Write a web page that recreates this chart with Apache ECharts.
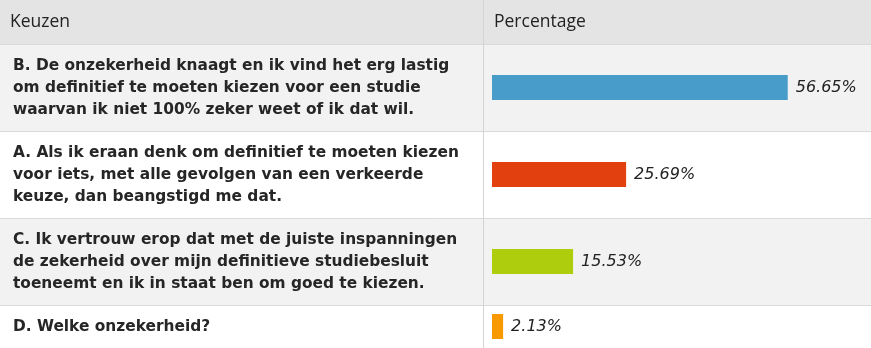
<!DOCTYPE html>
<html>
<head>
<meta charset="utf-8">
<script src="https://cdn.jsdelivr.net/npm/echarts@6/dist/echarts.min.js"></script>
<style>
  html, body { margin: 0; padding: 0; background: #ffffff; }
  #chart { width: 871px; height: 348px; }
</style>
</head>
<body>
<div id="chart"></div>
<script>
// Column headings of the results table
const headers = ['Keuzen', 'Percentage'];

// Answer options, one entry per line of text
const choices = [
  ['B. De onzekerheid knaagt en ik vind het erg lastig',
   'om definitief te moeten kiezen voor een studie',
   'waarvan ik niet 100% zeker weet of ik dat wil.'],
  ['A. Als ik eraan denk om definitief te moeten kiezen',
   'voor iets, met alle gevolgen van een verkeerde',
   'keuze, dan beangstigd me dat.'],
  ['C. Ik vertrouw erop dat met de juiste inspanningen',
   'de zekerheid over mijn definitieve studiebesluit',
   'toeneemt en ik in staat ben om goed te kiezen.'],
  ['D. Welke onzekerheid?']
];

// Share of respondents per option (%)
const percentages = [56.65, 25.69, 15.53, 2.13];

const barColors = ['#489cc9', '#e3400f', '#aecd0c', '#f99900'];
const rowFills = ['#f2f2f2', '#ffffff', '#f2f2f2', '#ffffff'];

// Table geometry
const W = 871;
const HEADER_H = 44;
const LINE_H = 22;
const ROW_PAD = 21;
const DIVIDER_X = 483.5;
const BAR_LEFT = 492;
const BAR_AREA_W = 379;
const X_MAX = 72.6;

const textFont = '"DejaVu Sans", Verdana, sans-serif';
const headFont = '"Open Sans", "Noto Sans", sans-serif';

const chart = echarts.init(document.getElementById('chart'), null, { renderer: 'canvas' });

// Row extents follow the number of text lines in each option
const rows = [];
let y = HEADER_H;
choices.forEach((lines) => {
  const h = lines.length * LINE_H + ROW_PAD;
  rows.push({ top: y, height: h });
  y += h;
});

const graphics = [];
// header band
graphics.push({ type: 'rect', shape: { x: 0, y: 0, width: W, height: HEADER_H }, style: { fill: '#e4e4e4' }, z: 0 });
graphics.push({ type: 'text', x: 10, y: HEADER_H / 2, style: { text: headers[0], font: '17.5px ' + headFont, fill: '#222222', verticalAlign: 'middle' }, z: 3 });
graphics.push({ type: 'text', x: 494, y: HEADER_H / 2, style: { text: headers[1], font: '17.5px ' + headFont, fill: '#222222', verticalAlign: 'middle' }, z: 3 });

rows.forEach((r, i) => {
  graphics.push({ type: 'rect', shape: { x: 0, y: r.top, width: W, height: r.height }, style: { fill: rowFills[i] }, z: 0 });
  graphics.push({ type: 'line', shape: { x1: 0, y1: r.top + 0.5, x2: W, y2: r.top + 0.5 }, style: { stroke: '#dadada', lineWidth: 1 }, z: 1 });
  graphics.push({
    type: 'text', x: 13, y: r.top + r.height / 2,
    style: {
      text: choices[i].join('\n'),
      font: 'bold 15.4px ' + textFont,
      lineHeight: LINE_H,
      fill: '#262626',
      verticalAlign: 'middle'
    },
    z: 3
  });
});
// column divider
graphics.push({ type: 'line', shape: { x1: DIVIDER_X, y1: 0, x2: DIVIDER_X, y2: 348 }, style: { stroke: '#d4d4d4', lineWidth: 1 }, z: 1 });

const grid = [], xAxis = [], yAxis = [], series = [];
rows.forEach((r, i) => {
  grid.push({ left: BAR_LEFT, width: BAR_AREA_W, top: r.top, height: r.height });
  xAxis.push({ gridIndex: i, type: 'value', min: 0, max: X_MAX, show: false });
  yAxis.push({ gridIndex: i, type: 'category', data: [choices[i][0].charAt(0)], show: false });
  series.push({
    type: 'bar',
    xAxisIndex: i,
    yAxisIndex: i,
    data: [percentages[i]],
    barWidth: 25,
    itemStyle: { color: barColors[i], borderColor: barColors[i], borderWidth: 2 },
    label: {
      show: true,
      position: 'right',
      distance: 8,
      formatter: (p) => p.value.toFixed(2) + '%',
      fontFamily: textFont,
      fontStyle: 'italic',
      fontSize: 16,
      color: '#222222'
    },
    silent: true,
    animation: false
  });
});

chart.setOption({
  animation: false,
  graphic: { elements: graphics },
  grid: grid,
  xAxis: xAxis,
  yAxis: yAxis,
  series: series
});
</script>
</body>
</html>
